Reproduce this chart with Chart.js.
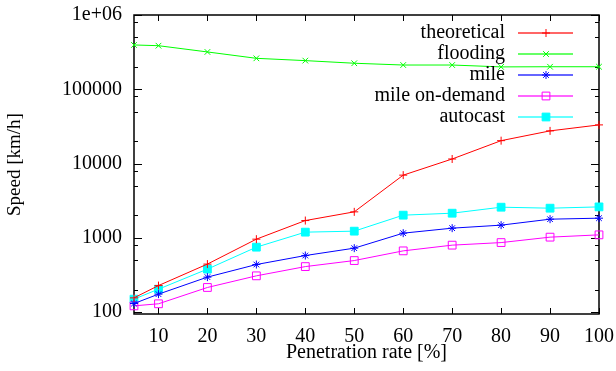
<!DOCTYPE html>
<html>
<head>
<meta charset="utf-8">
<script src="https://cdn.jsdelivr.net/npm/chart.js@4/dist/chart.umd.min.js"></script>
<style>
  html, body { margin: 0; padding: 0; background: #fff; }
  #wrap { width: 616px; height: 371px; }
</style>
</head>
<body>
<div id="wrap"><canvas id="myChart" width="616" height="371"></canvas></div>
<script>
// Data
const rates = [5, 10, 20, 30, 40, 50, 60, 70, 80, 90, 100];
const theoretical = [155, 227, 442, 957, 1705, 2233, 6970, 11500, 20300, 27500, 33100];
const flooding = [395000, 386000, 318000, 261000, 243000, 224000, 212000, 212000, 200000, 201000, 201000];
const mile = [130, 174, 295, 436, 576, 724, 1153, 1346, 1478, 1779, 1835];
const mileOnDemand = [121, 129, 214, 307, 409, 493, 666, 795, 861, 1019, 1094];
const autocast = [149, 203, 378, 747, 1190, 1227, 2015, 2142, 2580, 2502, 2604];

const xTicks = [10, 20, 30, 40, 50, 60, 70, 80, 90, 100];
const yTicks = [100, 1000, 10000, 100000, 1000000];
const yTickLabels = ['100', '1000', '10000', '100000', '1e+06'];
const minorFactors = [2, 5, 8];

const FONT = "'Liberation Serif', 'Times New Roman', serif";

function toPoints(vals) {
    return vals.map((v, i) => ({ x: rates[i], y: v }));
}

function makeSet(label, vals, color, style, radius, filled) {
    return {
        label: label,
        data: toPoints(vals),
        borderColor: color,
        backgroundColor: filled ? color : 'rgba(0,0,0,0)',
        borderWidth: 1,
        pointStyle: style,
        pointRadius: radius,
        pointBorderWidth: 1,
        pointBorderColor: color,
        pointBackgroundColor: filled ? color : 'rgba(0,0,0,0)',
        tension: 0,
        clip: false
    };
}

// gnuplot style frame with inward ticks on all four sides
const framePlugin = {
    id: 'frame',
    beforeDatasetsDraw(chart) {
        const ctx = chart.ctx;
        const a = chart.chartArea;
        const xs = chart.scales.x;
        const ys = chart.scales.y;
        ctx.save();
        ctx.strokeStyle = '#000';
        ctx.lineWidth = 1;
        ctx.beginPath();
        xTicks.forEach(t => {
            const px = Math.round(xs.getPixelForValue(t)) + 0.5;
            ctx.moveTo(px, a.bottom); ctx.lineTo(px, a.bottom - 6);
            ctx.moveTo(px, a.top); ctx.lineTo(px, a.top + 6);
        });
        yTicks.forEach(t => {
            const py = Math.round(ys.getPixelForValue(t)) + 0.5;
            ctx.moveTo(a.left, py); ctx.lineTo(a.left + 8, py);
            ctx.moveTo(a.right, py); ctx.lineTo(a.right - 8, py);
            if (t < 1000000) {
                minorFactors.forEach(f => {
                    const pm = Math.round(ys.getPixelForValue(t * f)) + 0.5;
                    ctx.moveTo(a.left, pm); ctx.lineTo(a.left + 4, pm);
                    ctx.moveTo(a.right, pm); ctx.lineTo(a.right - 4, pm);
                });
            }
        });
        ctx.stroke();
        ctx.lineWidth = 1.5;
        ctx.strokeRect(a.left, a.top, a.right - a.left, a.bottom - a.top);
        ctx.restore();
    }
};

// legend in the top right corner: text, then line sample with marker
const keyPlugin = {
    id: 'key',
    afterDraw(chart) {
        const ctx = chart.ctx;
        ctx.save();
        ctx.font = '20px ' + FONT;
        ctx.textAlign = 'right';
        ctx.textBaseline = 'middle';
        chart.data.datasets.forEach((ds, i) => {
            const y = 33 + i * 21;
            ctx.fillStyle = '#000';
            ctx.fillText(ds.label, 505, y);
            ctx.globalAlpha = 0.6;
            ctx.strokeStyle = ds.borderColor;
            ctx.lineWidth = 2;
            ctx.beginPath();
            ctx.moveTo(518, y); ctx.lineTo(573, y);
            ctx.stroke();
            ctx.globalAlpha = 1;
            ctx.lineWidth = 1;
            ctx.fillStyle = ds.pointBackgroundColor;
            Chart.helpers.drawPoint(ctx, {
                pointStyle: ds.pointStyle, radius: ds.pointRadius, borderWidth: 1, rotation: 0
            }, 546, y);
        });
        ctx.restore();
    }
};

const ctx = document.getElementById('myChart').getContext('2d');
const myChart = new Chart(ctx, {
    type: 'line',
    data: {
        datasets: [
            makeSet('theoretical', theoretical, '#ff0000', 'cross', 4, false),
            makeSet('flooding', flooding, '#00ff00', 'crossRot', 4, false),
            makeSet('mile', mile, '#0000ff', 'star', 4, false),
            makeSet('mile on-demand', mileOnDemand, '#ff00ff', 'rect', 5.5, false),
            makeSet('autocast', autocast, '#00ffff', 'rect', 5.5, true)
        ]
    },
    options: {
        responsive: false,
        animation: false,
        layout: { padding: { top: 15, right: 17, left: 0, bottom: 0 } },
        plugins: { legend: { display: false }, tooltip: { enabled: false } },
        scales: {
            x: {
                type: 'linear',
                min: 5,
                max: 100,
                afterBuildTicks: s => { s.ticks = xTicks.map(v => ({ value: v })); },
                afterFit: s => { s.height = 57; s.paddingLeft = 0; s.paddingRight = 0; },
                grid: { display: false, drawTicks: false },
                border: { display: false },
                ticks: { color: '#000', font: { family: FONT, size: 20 }, padding: 11, maxRotation: 0 },
                title: {
                    display: true, text: 'Penetration rate [%]', color: '#000',
                    font: { family: FONT, size: 20 }, padding: { top: 0, bottom: 6 }
                }
            },
            y: {
                type: 'logarithmic',
                min: 94,
                max: 1000000,
                afterBuildTicks: s => { s.ticks = yTicks.map(v => ({ value: v })); },
                afterFit: s => { s.width = 134; s.paddingTop = 0; s.paddingBottom = 0; },
                grid: { display: false, drawTicks: false },
                border: { display: false },
                ticks: {
                    color: '#000', font: { family: FONT, size: 20 }, padding: 12,
                    callback: v => yTickLabels[yTicks.indexOf(v)]
                },
                title: {
                    display: true, text: 'Speed [km/h]', color: '#000',
                    font: { family: FONT, size: 19 }, padding: { top: 4, bottom: 0 }
                }
            }
        }
    },
    plugins: [framePlugin, keyPlugin]
});
</script>
</body>
</html>
